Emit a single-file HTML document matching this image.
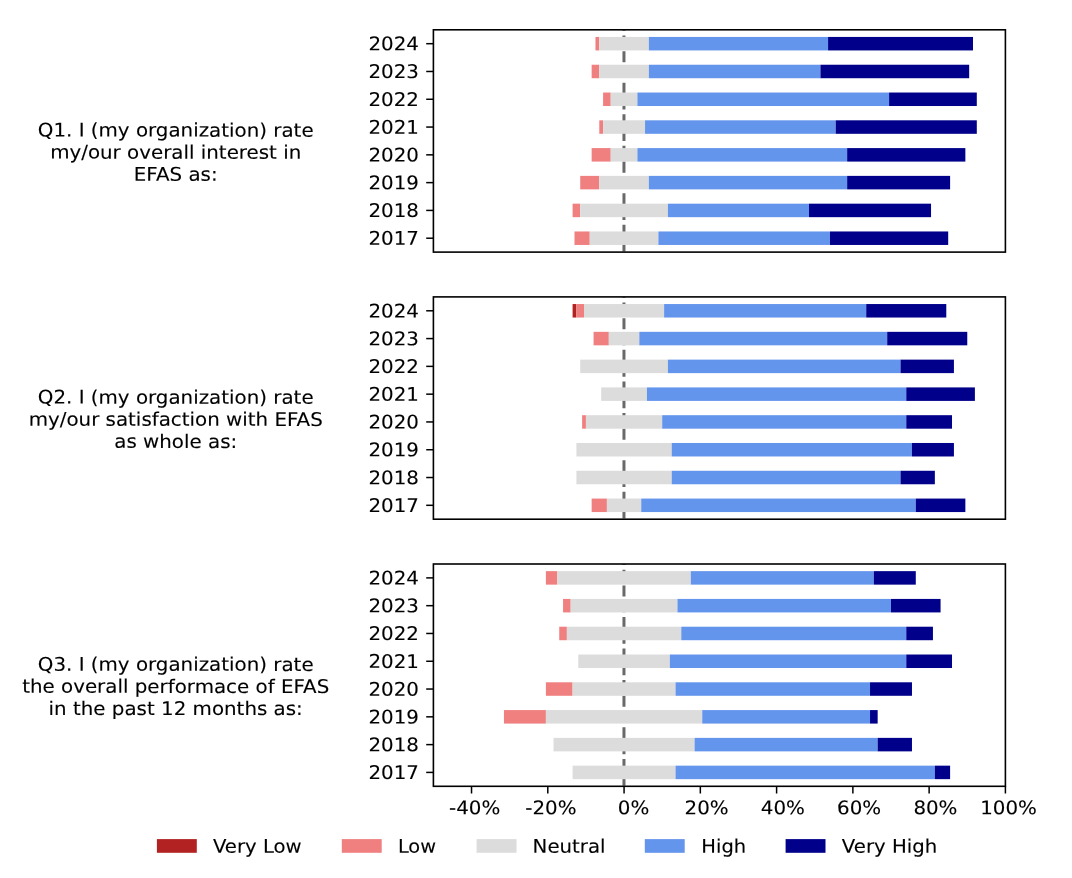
<!DOCTYPE html>
<html lang="en"><head><meta charset="utf-8"><title>EFAS survey</title>
<style>html,body{margin:0;padding:0;background:#fff}svg{display:block}text{font-family:"DejaVu Sans","Liberation Sans",sans-serif;font-size:19.85px;fill:#000;stroke:#000;stroke-width:0.12px}</style></head><body>
<svg width="1072" height="878" viewBox="0 0 1072 878">
<rect width="1072" height="878" fill="#fff"/>
<g>
<clipPath id="c0"><rect x="433.4" y="29.80" width="572.0" height="222.30"/></clipPath>
<line x1="623.97" x2="623.97" y1="251.50" y2="29.80" stroke="#696969" stroke-width="3" stroke-dasharray="11.05 4.72" clip-path="url(#c0)"/>
<rect x="595.47" y="36.94" width="3.81" height="13.50" fill="#f08080"/>
<rect x="599.28" y="36.94" width="49.57" height="13.50" fill="#dcdcdc"/>
<rect x="648.85" y="36.94" width="179.23" height="13.50" fill="#6495ed"/>
<rect x="828.08" y="36.94" width="144.91" height="13.50" fill="#00008b"/>
<line x1="426.20" x2="433.40" y1="43.69" y2="43.69" stroke="#000" stroke-width="1.5"/>
<g transform="translate(419.00,50.34) skewY(0.05) scale(1.0000,0.948)"><text text-anchor="end">2024</text></g>
<rect x="591.65" y="64.73" width="7.63" height="13.50" fill="#f08080"/>
<rect x="599.28" y="64.73" width="49.57" height="13.50" fill="#dcdcdc"/>
<rect x="648.85" y="64.73" width="171.60" height="13.50" fill="#6495ed"/>
<rect x="820.45" y="64.73" width="148.72" height="13.50" fill="#00008b"/>
<line x1="426.20" x2="433.40" y1="71.48" y2="71.48" stroke="#000" stroke-width="1.5"/>
<g transform="translate(419.00,78.13) skewY(0.05) scale(1.0000,0.948)"><text text-anchor="end">2023</text></g>
<rect x="603.09" y="92.52" width="7.63" height="13.50" fill="#f08080"/>
<rect x="610.72" y="92.52" width="26.69" height="13.50" fill="#dcdcdc"/>
<rect x="637.41" y="92.52" width="251.68" height="13.50" fill="#6495ed"/>
<rect x="889.09" y="92.52" width="87.71" height="13.50" fill="#00008b"/>
<line x1="426.20" x2="433.40" y1="99.27" y2="99.27" stroke="#000" stroke-width="1.5"/>
<g transform="translate(419.00,105.92) skewY(0.05) scale(1.0000,0.948)"><text text-anchor="end">2022</text></g>
<rect x="599.28" y="120.31" width="3.81" height="13.50" fill="#f08080"/>
<rect x="603.09" y="120.31" width="41.95" height="13.50" fill="#dcdcdc"/>
<rect x="645.04" y="120.31" width="190.67" height="13.50" fill="#6495ed"/>
<rect x="835.71" y="120.31" width="141.09" height="13.50" fill="#00008b"/>
<line x1="426.20" x2="433.40" y1="127.06" y2="127.06" stroke="#000" stroke-width="1.5"/>
<g transform="translate(419.00,133.71) skewY(0.05) scale(1.0000,0.948)"><text text-anchor="end">2021</text></g>
<rect x="591.65" y="148.09" width="19.07" height="13.50" fill="#f08080"/>
<rect x="610.72" y="148.09" width="26.69" height="13.50" fill="#dcdcdc"/>
<rect x="637.41" y="148.09" width="209.73" height="13.50" fill="#6495ed"/>
<rect x="847.15" y="148.09" width="118.21" height="13.50" fill="#00008b"/>
<line x1="426.20" x2="433.40" y1="154.84" y2="154.84" stroke="#000" stroke-width="1.5"/>
<g transform="translate(419.00,161.49) skewY(0.05) scale(1.0000,0.948)"><text text-anchor="end">2020</text></g>
<rect x="580.21" y="175.88" width="19.07" height="13.50" fill="#f08080"/>
<rect x="599.28" y="175.88" width="49.57" height="13.50" fill="#dcdcdc"/>
<rect x="648.85" y="175.88" width="198.29" height="13.50" fill="#6495ed"/>
<rect x="847.15" y="175.88" width="102.96" height="13.50" fill="#00008b"/>
<line x1="426.20" x2="433.40" y1="182.63" y2="182.63" stroke="#000" stroke-width="1.5"/>
<g transform="translate(419.00,189.28) skewY(0.05) scale(1.0000,0.948)"><text text-anchor="end">2019</text></g>
<rect x="572.59" y="203.67" width="7.63" height="13.50" fill="#f08080"/>
<rect x="580.21" y="203.67" width="87.71" height="13.50" fill="#dcdcdc"/>
<rect x="667.92" y="203.67" width="141.09" height="13.50" fill="#6495ed"/>
<rect x="809.01" y="203.67" width="122.03" height="13.50" fill="#00008b"/>
<line x1="426.20" x2="433.40" y1="210.42" y2="210.42" stroke="#000" stroke-width="1.5"/>
<g transform="translate(419.00,217.07) skewY(0.05) scale(1.0000,0.948)"><text text-anchor="end">2018</text></g>
<rect x="574.49" y="231.46" width="15.25" height="13.50" fill="#f08080"/>
<rect x="589.75" y="231.46" width="68.64" height="13.50" fill="#dcdcdc"/>
<rect x="658.39" y="231.46" width="171.60" height="13.50" fill="#6495ed"/>
<rect x="829.99" y="231.46" width="118.21" height="13.50" fill="#00008b"/>
<line x1="426.20" x2="433.40" y1="238.21" y2="238.21" stroke="#000" stroke-width="1.5"/>
<g transform="translate(419.00,244.86) skewY(0.05) scale(1.0000,0.948)"><text text-anchor="end">2017</text></g>
<rect x="433.40" y="29.80" width="572.00" height="222.30" fill="none" stroke="#000" stroke-width="1.6"/>
<g transform="translate(175.70,136.60) skewY(0.05) scale(1.0000,0.948)"><text text-anchor="middle">Q1. I (my organization) rate</text></g>
<g transform="translate(175.70,158.70) skewY(0.05) scale(1.0000,0.948)"><text text-anchor="middle">my/our overall interest in</text></g>
<g transform="translate(175.70,180.80) skewY(0.05) scale(1.0000,0.948)"><text text-anchor="middle">EFAS as:</text></g>
</g>
<g>
<clipPath id="c1"><rect x="433.4" y="296.90" width="572.0" height="222.30"/></clipPath>
<line x1="623.97" x2="623.97" y1="518.60" y2="296.90" stroke="#696969" stroke-width="3" stroke-dasharray="11.05 4.72" clip-path="url(#c1)"/>
<rect x="572.59" y="304.04" width="3.81" height="13.50" fill="#b22222"/>
<rect x="576.40" y="304.04" width="7.63" height="13.50" fill="#f08080"/>
<rect x="584.03" y="304.04" width="80.08" height="13.50" fill="#dcdcdc"/>
<rect x="664.11" y="304.04" width="202.11" height="13.50" fill="#6495ed"/>
<rect x="866.21" y="304.04" width="80.08" height="13.50" fill="#00008b"/>
<line x1="426.20" x2="433.40" y1="310.79" y2="310.79" stroke="#000" stroke-width="1.5"/>
<g transform="translate(419.00,317.44) skewY(0.05) scale(1.0000,0.948)"><text text-anchor="end">2024</text></g>
<rect x="593.56" y="331.83" width="15.25" height="13.50" fill="#f08080"/>
<rect x="608.81" y="331.83" width="30.51" height="13.50" fill="#dcdcdc"/>
<rect x="639.32" y="331.83" width="247.87" height="13.50" fill="#6495ed"/>
<rect x="887.19" y="331.83" width="80.08" height="13.50" fill="#00008b"/>
<line x1="426.20" x2="433.40" y1="338.58" y2="338.58" stroke="#000" stroke-width="1.5"/>
<g transform="translate(419.00,345.23) skewY(0.05) scale(1.0000,0.948)"><text text-anchor="end">2023</text></g>
<rect x="580.21" y="359.62" width="87.71" height="13.50" fill="#dcdcdc"/>
<rect x="667.92" y="359.62" width="232.61" height="13.50" fill="#6495ed"/>
<rect x="900.53" y="359.62" width="53.39" height="13.50" fill="#00008b"/>
<line x1="426.20" x2="433.40" y1="366.37" y2="366.37" stroke="#000" stroke-width="1.5"/>
<g transform="translate(419.00,373.02) skewY(0.05) scale(1.0000,0.948)"><text text-anchor="end">2022</text></g>
<rect x="601.19" y="387.41" width="45.76" height="13.50" fill="#dcdcdc"/>
<rect x="646.95" y="387.41" width="259.31" height="13.50" fill="#6495ed"/>
<rect x="906.25" y="387.41" width="68.64" height="13.50" fill="#00008b"/>
<line x1="426.20" x2="433.40" y1="394.16" y2="394.16" stroke="#000" stroke-width="1.5"/>
<g transform="translate(419.00,400.81) skewY(0.05) scale(1.0000,0.948)"><text text-anchor="end">2021</text></g>
<rect x="582.12" y="415.19" width="3.81" height="13.50" fill="#f08080"/>
<rect x="585.93" y="415.19" width="76.27" height="13.50" fill="#dcdcdc"/>
<rect x="662.20" y="415.19" width="244.05" height="13.50" fill="#6495ed"/>
<rect x="906.25" y="415.19" width="45.76" height="13.50" fill="#00008b"/>
<line x1="426.20" x2="433.40" y1="421.94" y2="421.94" stroke="#000" stroke-width="1.5"/>
<g transform="translate(419.00,428.59) skewY(0.05) scale(1.0000,0.948)"><text text-anchor="end">2020</text></g>
<rect x="576.40" y="442.98" width="95.33" height="13.50" fill="#dcdcdc"/>
<rect x="671.73" y="442.98" width="240.24" height="13.50" fill="#6495ed"/>
<rect x="911.97" y="442.98" width="41.95" height="13.50" fill="#00008b"/>
<line x1="426.20" x2="433.40" y1="449.73" y2="449.73" stroke="#000" stroke-width="1.5"/>
<g transform="translate(419.00,456.38) skewY(0.05) scale(1.0000,0.948)"><text text-anchor="end">2019</text></g>
<rect x="576.40" y="470.77" width="95.33" height="13.50" fill="#dcdcdc"/>
<rect x="671.73" y="470.77" width="228.80" height="13.50" fill="#6495ed"/>
<rect x="900.53" y="470.77" width="34.32" height="13.50" fill="#00008b"/>
<line x1="426.20" x2="433.40" y1="477.52" y2="477.52" stroke="#000" stroke-width="1.5"/>
<g transform="translate(419.00,484.17) skewY(0.05) scale(1.0000,0.948)"><text text-anchor="end">2018</text></g>
<rect x="591.65" y="498.56" width="15.25" height="13.50" fill="#f08080"/>
<rect x="606.91" y="498.56" width="34.32" height="13.50" fill="#dcdcdc"/>
<rect x="641.23" y="498.56" width="274.56" height="13.50" fill="#6495ed"/>
<rect x="915.79" y="498.56" width="49.57" height="13.50" fill="#00008b"/>
<line x1="426.20" x2="433.40" y1="505.31" y2="505.31" stroke="#000" stroke-width="1.5"/>
<g transform="translate(419.00,511.96) skewY(0.05) scale(1.0000,0.948)"><text text-anchor="end">2017</text></g>
<rect x="433.40" y="296.90" width="572.00" height="222.30" fill="none" stroke="#000" stroke-width="1.6"/>
<g transform="translate(175.70,403.70) skewY(0.05) scale(1.0000,0.948)"><text text-anchor="middle">Q2. I (my organization) rate</text></g>
<g transform="translate(175.70,425.80) skewY(0.05) scale(1.0000,0.948)"><text text-anchor="middle">my/our satisfaction with EFAS</text></g>
<g transform="translate(175.70,447.90) skewY(0.05) scale(1.0000,0.948)"><text text-anchor="middle">as whole as:</text></g>
</g>
<g>
<clipPath id="c2"><rect x="433.4" y="564.00" width="572.0" height="222.30"/></clipPath>
<line x1="623.97" x2="623.97" y1="785.70" y2="564.00" stroke="#696969" stroke-width="3" stroke-dasharray="11.05 4.72" clip-path="url(#c2)"/>
<rect x="545.89" y="571.14" width="11.44" height="13.50" fill="#f08080"/>
<rect x="557.33" y="571.14" width="133.47" height="13.50" fill="#dcdcdc"/>
<rect x="690.80" y="571.14" width="183.04" height="13.50" fill="#6495ed"/>
<rect x="873.84" y="571.14" width="41.95" height="13.50" fill="#00008b"/>
<line x1="426.20" x2="433.40" y1="577.89" y2="577.89" stroke="#000" stroke-width="1.5"/>
<g transform="translate(419.00,584.54) skewY(0.05) scale(1.0000,0.948)"><text text-anchor="end">2024</text></g>
<rect x="563.05" y="598.93" width="7.63" height="13.50" fill="#f08080"/>
<rect x="570.68" y="598.93" width="106.77" height="13.50" fill="#dcdcdc"/>
<rect x="677.45" y="598.93" width="213.55" height="13.50" fill="#6495ed"/>
<rect x="891.00" y="598.93" width="49.57" height="13.50" fill="#00008b"/>
<line x1="426.20" x2="433.40" y1="605.68" y2="605.68" stroke="#000" stroke-width="1.5"/>
<g transform="translate(419.00,612.33) skewY(0.05) scale(1.0000,0.948)"><text text-anchor="end">2023</text></g>
<rect x="559.24" y="626.72" width="7.63" height="13.50" fill="#f08080"/>
<rect x="566.87" y="626.72" width="114.40" height="13.50" fill="#dcdcdc"/>
<rect x="681.27" y="626.72" width="224.99" height="13.50" fill="#6495ed"/>
<rect x="906.25" y="626.72" width="26.69" height="13.50" fill="#00008b"/>
<line x1="426.20" x2="433.40" y1="633.47" y2="633.47" stroke="#000" stroke-width="1.5"/>
<g transform="translate(419.00,640.12) skewY(0.05) scale(1.0000,0.948)"><text text-anchor="end">2022</text></g>
<rect x="578.31" y="654.51" width="91.52" height="13.50" fill="#dcdcdc"/>
<rect x="669.83" y="654.51" width="236.43" height="13.50" fill="#6495ed"/>
<rect x="906.25" y="654.51" width="45.76" height="13.50" fill="#00008b"/>
<line x1="426.20" x2="433.40" y1="661.26" y2="661.26" stroke="#000" stroke-width="1.5"/>
<g transform="translate(419.00,667.91) skewY(0.05) scale(1.0000,0.948)"><text text-anchor="end">2021</text></g>
<rect x="545.89" y="682.29" width="26.69" height="13.50" fill="#f08080"/>
<rect x="572.59" y="682.29" width="102.96" height="13.50" fill="#dcdcdc"/>
<rect x="675.55" y="682.29" width="194.48" height="13.50" fill="#6495ed"/>
<rect x="870.03" y="682.29" width="41.95" height="13.50" fill="#00008b"/>
<line x1="426.20" x2="433.40" y1="689.04" y2="689.04" stroke="#000" stroke-width="1.5"/>
<g transform="translate(419.00,695.69) skewY(0.05) scale(1.0000,0.948)"><text text-anchor="end">2020</text></g>
<rect x="503.95" y="710.08" width="41.95" height="13.50" fill="#f08080"/>
<rect x="545.89" y="710.08" width="156.35" height="13.50" fill="#dcdcdc"/>
<rect x="702.24" y="710.08" width="167.79" height="13.50" fill="#6495ed"/>
<rect x="870.03" y="710.08" width="7.63" height="13.50" fill="#00008b"/>
<line x1="426.20" x2="433.40" y1="716.83" y2="716.83" stroke="#000" stroke-width="1.5"/>
<g transform="translate(419.00,723.48) skewY(0.05) scale(1.0000,0.948)"><text text-anchor="end">2019</text></g>
<rect x="553.52" y="737.87" width="141.09" height="13.50" fill="#dcdcdc"/>
<rect x="694.61" y="737.87" width="183.04" height="13.50" fill="#6495ed"/>
<rect x="877.65" y="737.87" width="34.32" height="13.50" fill="#00008b"/>
<line x1="426.20" x2="433.40" y1="744.62" y2="744.62" stroke="#000" stroke-width="1.5"/>
<g transform="translate(419.00,751.27) skewY(0.05) scale(1.0000,0.948)"><text text-anchor="end">2018</text></g>
<rect x="572.59" y="765.66" width="102.96" height="13.50" fill="#dcdcdc"/>
<rect x="675.55" y="765.66" width="259.31" height="13.50" fill="#6495ed"/>
<rect x="934.85" y="765.66" width="15.25" height="13.50" fill="#00008b"/>
<line x1="426.20" x2="433.40" y1="772.41" y2="772.41" stroke="#000" stroke-width="1.5"/>
<g transform="translate(419.00,779.06) skewY(0.05) scale(1.0000,0.948)"><text text-anchor="end">2017</text></g>
<rect x="433.40" y="564.00" width="572.00" height="222.30" fill="none" stroke="#000" stroke-width="1.6"/>
<g transform="translate(175.70,670.80) skewY(0.05) scale(1.0000,0.948)"><text text-anchor="middle">Q3. I (my organization) rate</text></g>
<g transform="translate(175.70,692.90) skewY(0.05) scale(1.0000,0.948)"><text text-anchor="middle">the overall performace of EFAS</text></g>
<g transform="translate(175.70,715.00) skewY(0.05) scale(1.0000,0.948)"><text text-anchor="middle">in the past 12 months as:</text></g>
</g>
<line x1="471.53" x2="471.53" y1="786.30" y2="793.50" stroke="#000" stroke-width="1.5"/>
<g transform="translate(474.68,814.15) skewY(0.05) scale(1.0000,0.948)"><text text-anchor="middle">-40%</text></g>
<line x1="547.80" x2="547.80" y1="786.30" y2="793.50" stroke="#000" stroke-width="1.5"/>
<g transform="translate(550.95,814.15) skewY(0.05) scale(1.0000,0.948)"><text text-anchor="middle">-20%</text></g>
<line x1="624.07" x2="624.07" y1="786.30" y2="793.50" stroke="#000" stroke-width="1.5"/>
<g transform="translate(633.52,814.15) skewY(0.05) scale(1.0000,0.948)"><text text-anchor="middle">0%</text></g>
<line x1="700.33" x2="700.33" y1="786.30" y2="793.50" stroke="#000" stroke-width="1.5"/>
<g transform="translate(706.63,814.15) skewY(0.05) scale(1.0000,0.948)"><text text-anchor="middle">20%</text></g>
<line x1="776.60" x2="776.60" y1="786.30" y2="793.50" stroke="#000" stroke-width="1.5"/>
<g transform="translate(782.90,814.15) skewY(0.05) scale(1.0000,0.948)"><text text-anchor="middle">40%</text></g>
<line x1="852.87" x2="852.87" y1="786.30" y2="793.50" stroke="#000" stroke-width="1.5"/>
<g transform="translate(859.17,814.15) skewY(0.05) scale(1.0000,0.948)"><text text-anchor="middle">60%</text></g>
<line x1="929.13" x2="929.13" y1="786.30" y2="793.50" stroke="#000" stroke-width="1.5"/>
<g transform="translate(935.43,814.15) skewY(0.05) scale(1.0000,0.948)"><text text-anchor="middle">80%</text></g>
<line x1="1005.40" x2="1005.40" y1="786.30" y2="793.50" stroke="#000" stroke-width="1.5"/>
<g transform="translate(1008.55,814.15) skewY(0.05) scale(1.0000,0.948)"><text text-anchor="middle">100%</text></g>
<rect x="156.90" y="839.1" width="39.9" height="13.7" fill="#b22222"/>
<g transform="translate(212.90,852.80) skewY(0.05) scale(0.9920,0.948)"><text text-anchor="start">Very Low</text></g>
<rect x="341.80" y="839.1" width="39.9" height="13.7" fill="#f08080"/>
<g transform="translate(397.90,852.80) skewY(0.05) scale(0.9780,0.948)"><text text-anchor="start">Low</text></g>
<rect x="476.60" y="839.1" width="39.9" height="13.7" fill="#dcdcdc"/>
<g transform="translate(532.60,852.80) skewY(0.05) scale(0.9960,0.948)"><text text-anchor="start">Neutral</text></g>
<rect x="644.80" y="839.1" width="39.9" height="13.7" fill="#6495ed"/>
<g transform="translate(701.30,852.80) skewY(0.05) scale(0.9830,0.948)"><text text-anchor="start">High</text></g>
<rect x="785.60" y="839.1" width="39.9" height="13.7" fill="#00008b"/>
<g transform="translate(841.80,852.80) skewY(0.05) scale(0.9940,0.948)"><text text-anchor="start">Very High</text></g>
</svg></body></html>
